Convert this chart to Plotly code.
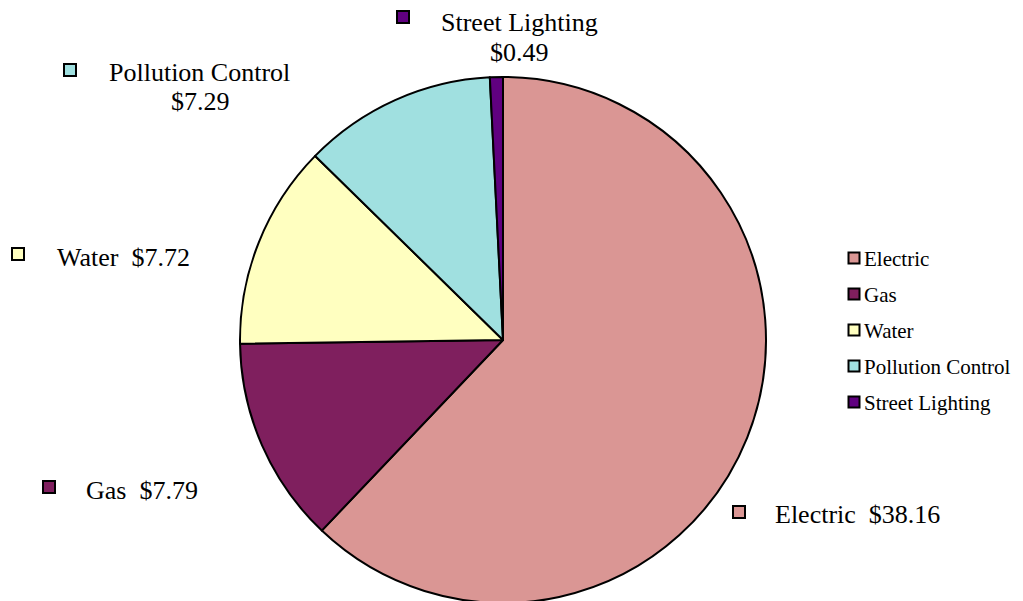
import plotly.graph_objects as go

labels = ["Electric", "Gas", "Water", "Pollution Control", "Street Lighting"]
values = [38.16, 7.79, 7.72, 7.29, 0.49]
colors = ["#DA9694", "#7F1F5E", "#FFFFC0", "#A0E0E0", "#600080"]

W, H = 1023, 601
OFF = 8  # page body margin
FONT = "Liberation Serif"


def px(x):
    return (x - OFF) / W


def py(y):
    return 1 - (y - OFF) / H


fig = go.Figure()
fig.add_trace(go.Pie(
    labels=labels, values=values, sort=False, direction="clockwise", rotation=0,
    marker=dict(colors=colors, line=dict(color="black", width=2)),
    textinfo="none", hoverinfo="label+value", showlegend=False,
    domain=dict(x=[px(503) - 0.29, px(503) + 0.29], y=[py(603), py(77)]),
))

shapes = []
annotations = []


def square(cx, cy, col, half=6):
    shapes.append(dict(type="rect", xref="paper", yref="paper",
                       x0=px(cx - half), x1=px(cx + half),
                       y0=py(cy + half), y1=py(cy - half),
                       fillcolor=col, line=dict(color="black", width=2)))


def text(t, x, y, anchor, size):
    annotations.append(dict(text=t, xref="paper", yref="paper",
                            x=px(x), y=py(y), xanchor=anchor, yanchor="middle",
                            showarrow=False, borderpad=0,
                            font=dict(family=FONT, size=size, color="black")))


# outside data labels (page pixel positions)
LS = 26
lab_val = dict(zip(labels, values))
lab_col = dict(zip(labels, colors))

square(403, 17, lab_col["Street Lighting"])
text("Street Lighting", 519, 23, "center", LS)
text("$%.2f" % lab_val["Street Lighting"], 519, 52, "center", LS)

square(70, 70, lab_col["Pollution Control"])
text("Pollution Control", 199, 72, "center", LS)
text("$%.2f" % lab_val["Pollution Control"], 200, 102, "center", LS)

square(18, 254, lab_col["Water"])
text("Water  $%.2f" % lab_val["Water"], 56, 257, "left", LS)

square(49, 487, lab_col["Gas"])
text("Gas  $%.2f" % lab_val["Gas"], 85, 491, "left", LS)

square(739, 512, lab_col["Electric"])
text("Electric  $%.2f" % lab_val["Electric"], 774, 514, "left", LS)

# legend (manual)
for i, (lab, col) in enumerate(zip(labels, colors)):
    y = 258 + 36 * i
    square(854, y, col, half=5.5)
    text(lab, 863, y + 1, "left", 21)

fig.update_layout(
    width=W, height=H,
    margin=dict(l=0, r=0, t=0, b=0),
    paper_bgcolor="white", plot_bgcolor="white",
    shapes=shapes, annotations=annotations,
    showlegend=False,
)

fig.write_html("out.html")
